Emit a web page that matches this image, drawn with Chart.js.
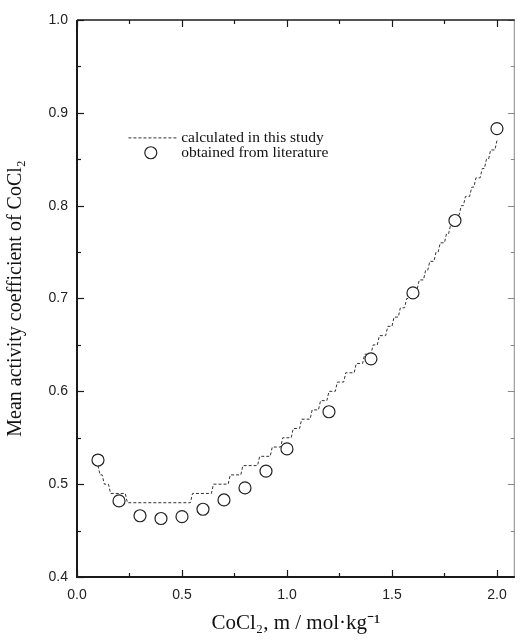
<!DOCTYPE html>
<html>
<head>
<meta charset="utf-8">
<script src="https://cdn.jsdelivr.net/npm/chart.js@4/dist/chart.umd.min.js"></script>
<style>
html,body{margin:0;padding:0;background:#fff;}
#wrap{width:522px;height:642px;position:relative;}
</style>
</head>
<body>
<div id="wrap"><canvas id="c" width="522" height="642"></canvas></div>
<script>
// Literature values (open circles)
const litX = [0.1, 0.2, 0.3, 0.4, 0.5, 0.6, 0.7, 0.8, 0.9, 1.0, 1.2, 1.4, 1.6, 1.8, 2.0];
const litY = [0.526, 0.482, 0.466, 0.463, 0.465, 0.473, 0.483, 0.496, 0.514, 0.538, 0.578, 0.635, 0.706, 0.784, 0.883];

// Calculated curve (values reported to 0.01): each level runs from calcFrom to calcTo
const calcLevel = [0.52,0.51,0.50,0.49,0.48,0.49,0.50,0.51,0.52,0.53,0.54,0.55,0.56,0.57,0.58,0.59,0.60,0.61,0.62,0.63,0.64,0.65,0.66,0.67,0.68,0.69,0.70,0.71,0.72,0.73,0.74,0.75,0.76,0.77,0.78,0.79,0.80,0.81,0.82,0.83,0.84,0.85,0.86,0.87];
const calcFrom  = [0.10,0.11,0.13,0.16,0.24,0.55,0.65,0.73,0.79,0.87,0.93,0.98,1.03,1.07,1.12,1.16,1.20,1.24,1.28,1.33,1.37,1.41,1.44,1.48,1.51,1.54,1.57,1.61,1.63,1.66,1.68,1.71,1.73,1.76,1.78,1.81,1.83,1.85,1.88,1.90,1.93,1.95,1.97,2.00];
const calcTo    = [0.10,0.12,0.15,0.23,0.54,0.64,0.72,0.78,0.86,0.92,0.97,1.02,1.06,1.11,1.15,1.19,1.23,1.27,1.32,1.36,1.40,1.43,1.47,1.50,1.53,1.56,1.60,1.62,1.65,1.67,1.70,1.72,1.75,1.77,1.80,1.82,1.84,1.87,1.89,1.92,1.94,1.96,1.99,2.00];

const xTickLabels = ['0.0','0.5','1.0','1.5','2.0'];
const yTickLabels = ['0.4','0.5','0.6','0.7','0.8','0.9','1.0'];
const seriesNames = ['calculated in this study','obtained from literature'];
const xTitle = 'CoCl\u2082, m / mol\u00B7kg\u207B\u00B9';
const yTitle = 'Mean activity coefficient of CoCl\u2082';

const litPoints = litX.map((x,i)=>({x:x,y:litY[i]}));
const calcPoints = [];
calcLevel.forEach((lv,i)=>{
  calcPoints.push({x:calcFrom[i],y:lv});
  if (calcTo[i] !== calcFrom[i]) calcPoints.push({x:calcTo[i],y:lv});
});

const AXIS_DARK = '#1a1a1a';

const framePlugin = {
  id:'frame',
  afterDatasetsDraw(chart){
    const ctx = chart.ctx, a = chart.chartArea;
    const xs = chart.scales.x, ys = chart.scales.y;
    ctx.save();
    const drawXT = (v,len)=>{
      const px = Math.round(xs.getPixelForValue(v))+0.5;
      ctx.strokeStyle = AXIS_DARK; ctx.lineWidth = 1.2;
      ctx.beginPath(); ctx.moveTo(px,a.bottom); ctx.lineTo(px,a.bottom-len); ctx.stroke();
      ctx.beginPath(); ctx.moveTo(px,a.top); ctx.lineTo(px,a.top+len); ctx.stroke();
    };
    const drawYT = (v,len)=>{
      const py = Math.round(ys.getPixelForValue(v))+0.5;
      ctx.strokeStyle = AXIS_DARK; ctx.lineWidth = 1.2;
      ctx.beginPath(); ctx.moveTo(a.left,py); ctx.lineTo(a.left+len,py); ctx.stroke();
      ctx.strokeStyle = '#888'; ctx.lineWidth = 1;
      ctx.beginPath(); ctx.moveTo(a.right,py); ctx.lineTo(a.right-len,py); ctx.stroke();
    };
    for (let k=0;k<=8;k++){ drawXT(k*0.25, k%2===0?7:4); }
    for (let k=0;k<=12;k++){ drawYT(0.4+k*0.05, k%2===0?7:4); }
    ctx.strokeStyle = '#888'; ctx.lineWidth = 1;
    ctx.beginPath(); ctx.moveTo(a.right-0.5,a.top); ctx.lineTo(a.right-0.5,a.bottom); ctx.stroke();
    ctx.strokeStyle = AXIS_DARK; ctx.lineWidth = 1.5;
    ctx.beginPath(); ctx.moveTo(a.left,a.top); ctx.lineTo(a.right,a.top); ctx.stroke();
    ctx.lineWidth = 2;
    ctx.beginPath(); ctx.moveTo(a.left,a.top); ctx.lineTo(a.left,a.bottom); ctx.lineTo(a.right,a.bottom); ctx.stroke();
    // legend
    const lx1 = xs.getPixelForValue(0.245), lx2 = xs.getPixelForValue(0.477);
    const ly1 = ys.getPixelForValue(0.873), ly2 = ys.getPixelForValue(0.857);
    ctx.strokeStyle = '#333'; ctx.lineWidth = 1; ctx.setLineDash([3,2]);
    ctx.beginPath(); ctx.moveTo(lx1,ly1); ctx.lineTo(lx2,ly1); ctx.stroke();
    ctx.setLineDash([]);
    const cx = (lx1+lx2)/2 - 2;
    ctx.fillStyle = '#fff'; ctx.strokeStyle = '#222'; ctx.lineWidth = 1.2;
    ctx.beginPath(); ctx.arc(cx,ly2,6,0,Math.PI*2); ctx.fill(); ctx.stroke();
    ctx.fillStyle = '#111'; ctx.font = '15.5px "Liberation Serif", "Times New Roman", serif';
    ctx.textBaseline = 'middle'; ctx.textAlign = 'left';
    ctx.fillText(seriesNames[0], lx2+4, ly1);
    ctx.fillText(seriesNames[1], lx2+4, ly2);
    ctx.restore();
  }
};

new Chart(document.getElementById('c'), {
  type:'scatter',
  data:{
    datasets:[
      {label:seriesNames[1], data:litPoints, showLine:false, pointRadius:6, pointHoverRadius:6,
       pointBackgroundColor:'#fff', pointBorderColor:'#222', pointBorderWidth:1.2},
      {label:seriesNames[0], data:calcPoints, showLine:true, pointRadius:0, borderColor:'#333',
       borderWidth:1, borderDash:[3,2], tension:0, fill:false}
    ]
  },
  options:{
    responsive:false, animation:false, devicePixelRatio:1,
    layout:{padding:{left:0,right:2,top:20,bottom:0}},
    plugins:{legend:{display:false}, tooltip:{enabled:false}},
    scales:{
      x:{type:'linear', min:0, max:2.085,
         afterBuildTicks(s){ s.ticks = xTickLabels.map(t=>({value:parseFloat(t)})); },
         afterFit(s){ s.height = 65; },
         grid:{display:false, drawTicks:false}, border:{display:false},
         ticks:{padding:10, color:'#222', font:{family:'"Liberation Sans", Arial, sans-serif', size:14},
                callback:(v)=>xTickLabels.find(t=>parseFloat(t)===v)},
         title:{display:true, text:xTitle, color:'#111', padding:{top:0,bottom:6},
                font:{family:'"Liberation Serif", "Times New Roman", serif', size:21}}},
      y:{type:'linear', min:0.4, max:1.0,
         afterBuildTicks(s){ s.ticks = yTickLabels.map(t=>({value:parseFloat(t)})); },
         afterFit(s){ s.width = 77; },
         grid:{display:false, drawTicks:false}, border:{display:false},
         ticks:{padding:9, color:'#222', font:{family:'"Liberation Sans", Arial, sans-serif', size:14},
                callback:(v)=>yTickLabels.find(t=>Math.abs(parseFloat(t)-v)<1e-9)},
         title:{display:true, text:yTitle, color:'#111', padding:{top:4,bottom:0},
                font:{family:'"Liberation Serif", "Times New Roman", serif', size:20}}}
    }
  },
  plugins:[framePlugin]
});
</script>
</body>
</html>
